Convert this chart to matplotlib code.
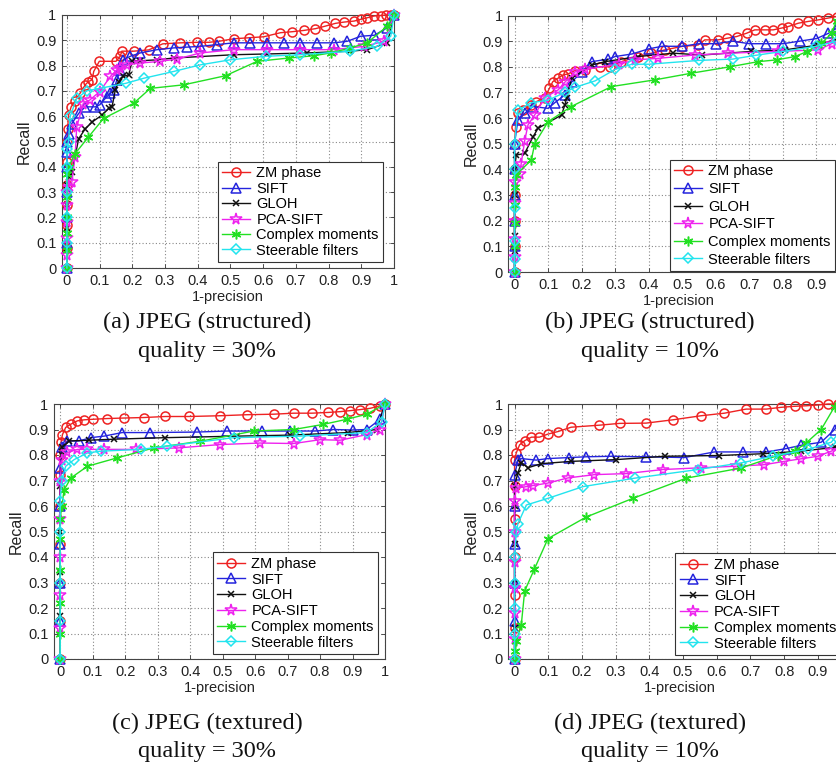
import matplotlib
matplotlib.use("Agg")
import matplotlib.pyplot as plt

# ---------------- data ----------------
series_names = ["ZM phase", "SIFT", "GLOH", "PCA-SIFT", "Complex moments", "Steerable filters"]
tick_vals = [0, 0.1, 0.2, 0.3, 0.4, 0.5, 0.6, 0.7, 0.8, 0.9, 1]
tick_labels = ["0", "0.1", "0.2", "0.3", "0.4", "0.5", "0.6", "0.7", "0.8", "0.9", "1"]
captions = ["(a) JPEG (structured)\nquality = 30%", "(b) JPEG (structured)\nquality = 10%",
            "(c) JPEG (textured)\nquality = 30%", "(d) JPEG (textured)\nquality = 10%"]

# panel (a)
a_zm_x = [0, 0, 0, 0, 0, 0, 0, 0.002, 0.005, 0.013, 0.025, 0.04, 0.056, 0.066, 0.077, 0.082, 0.099, 0.15, 0.163, 0.168, 0.204, 0.25, 0.293, 0.347, 0.398, 0.434, 0.464, 0.51, 0.556, 0.602, 0.653, 0.689, 0.724, 0.76, 0.79, 0.821, 0.847, 0.878, 0.898, 0.918, 0.939, 0.96, 0.975, 0.99, 1.0]
a_zm_y = [0, 0.08, 0.17, 0.25, 0.33, 0.42, 0.5, 0.55, 0.604, 0.637, 0.66, 0.69, 0.724, 0.737, 0.744, 0.777, 0.817, 0.817, 0.837, 0.857, 0.857, 0.862, 0.886, 0.89, 0.892, 0.892, 0.896, 0.906, 0.91, 0.914, 0.93, 0.934, 0.939, 0.946, 0.956, 0.967, 0.972, 0.976, 0.983, 0.989, 0.996, 0.998, 1.0, 1.0, 1.0]
a_sift_x = [0, 0, 0, 0, 0, 0, 0, 0.005, 0.015, 0.036, 0.056, 0.087, 0.1, 0.122, 0.133, 0.143, 0.153, 0.163, 0.173, 0.194, 0.224, 0.276, 0.327, 0.367, 0.408, 0.459, 0.51, 0.561, 0.612, 0.663, 0.714, 0.765, 0.816, 0.857, 0.898, 0.94, 0.98, 1.0]
a_sift_y = [0, 0.1, 0.2, 0.3, 0.4, 0.46, 0.5, 0.53, 0.571, 0.611, 0.637, 0.637, 0.645, 0.677, 0.69, 0.704, 0.744, 0.784, 0.823, 0.837, 0.85, 0.863, 0.87, 0.873, 0.876, 0.883, 0.89, 0.89, 0.89, 0.89, 0.89, 0.89, 0.89, 0.896, 0.916, 0.92, 0.95, 1.0]
a_gloh_x = [0, 0, 0, 0, 0, 0.005, 0.015, 0.036, 0.056, 0.077, 0.107, 0.128, 0.138, 0.148, 0.158, 0.173, 0.189, 0.2, 0.224, 0.276, 0.327, 0.51, 0.612, 0.735, 0.867, 0.918, 0.98, 1.0]
a_gloh_y = [0, 0.08, 0.16, 0.25, 0.33, 0.36, 0.378, 0.511, 0.55, 0.577, 0.604, 0.631, 0.637, 0.704, 0.737, 0.757, 0.764, 0.82, 0.819, 0.823, 0.83, 0.843, 0.846, 0.85, 0.857, 0.863, 0.89, 1.0]
a_pca_x = [0, 0, 0, 0, 0, 0, 0.005, 0.015, 0.025, 0.03, 0.05, 0.07, 0.1, 0.133, 0.153, 0.163, 0.184, 0.224, 0.286, 0.337, 0.408, 0.51, 0.612, 0.714, 0.816, 0.908, 0.97, 1.0]
a_pca_y = [0, 0.05, 0.12, 0.18, 0.25, 0.3, 0.32, 0.339, 0.44, 0.558, 0.65, 0.664, 0.697, 0.757, 0.784, 0.79, 0.803, 0.81, 0.817, 0.826, 0.85, 0.863, 0.863, 0.863, 0.863, 0.876, 0.896, 1.0]
a_cm_x = [0, 0, 0, 0, 0, 0, 0.005, 0.025, 0.066, 0.112, 0.204, 0.255, 0.357, 0.485, 0.582, 0.679, 0.755, 0.806, 0.867, 0.918, 0.98, 1.0]
a_cm_y = [0, 0.07, 0.14, 0.2, 0.28, 0.37, 0.4, 0.452, 0.518, 0.591, 0.651, 0.71, 0.724, 0.76, 0.817, 0.83, 0.839, 0.85, 0.87, 0.89, 0.956, 1.0]
a_sf_x = [0, 0, 0, 0, 0, 0, 0.005, 0.01, 0.03, 0.06, 0.1, 0.18, 0.235, 0.327, 0.408, 0.5, 0.61, 0.714, 0.867, 0.949, 0.99, 1.0]
a_sf_y = [0, 0.1, 0.2, 0.3, 0.4, 0.47, 0.5, 0.6, 0.67, 0.7, 0.71, 0.73, 0.75, 0.777, 0.803, 0.823, 0.837, 0.843, 0.857, 0.876, 0.916, 1.0]

# panel (b)
b_zm_x = [0, 0, 0, 0, 0, 0, 0.003, 0.01, 0.025, 0.05, 0.065, 0.09, 0.104, 0.114, 0.129, 0.144, 0.159, 0.179, 0.209, 0.254, 0.284, 0.318, 0.368, 0.408, 0.448, 0.498, 0.547, 0.567, 0.607, 0.632, 0.662, 0.692, 0.716, 0.746, 0.771, 0.796, 0.816, 0.846, 0.876, 0.906, 0.935, 0.96, 1.0]
b_zm_y = [0, 0.1, 0.2, 0.3, 0.4, 0.5, 0.566, 0.618, 0.63, 0.651, 0.664, 0.68, 0.716, 0.742, 0.755, 0.768, 0.772, 0.785, 0.788, 0.8, 0.8, 0.82, 0.84, 0.853, 0.866, 0.879, 0.885, 0.905, 0.905, 0.911, 0.918, 0.931, 0.944, 0.944, 0.944, 0.951, 0.957, 0.97, 0.977, 0.983, 0.99, 0.996, 1.0]
b_sift_x = [0, 0, 0, 0, 0, 0, 0.01, 0.03, 0.055, 0.1, 0.12, 0.15, 0.17, 0.2, 0.23, 0.28, 0.3, 0.35, 0.4, 0.44, 0.5, 0.55, 0.6, 0.65, 0.7, 0.75, 0.8, 0.85, 0.9, 0.935, 0.96, 1.0]
b_sift_y = [0, 0.1, 0.2, 0.3, 0.4, 0.5, 0.592, 0.618, 0.645, 0.638, 0.66, 0.69, 0.74, 0.78, 0.82, 0.83, 0.84, 0.85, 0.87, 0.88, 0.88, 0.89, 0.89, 0.9, 0.89, 0.89, 0.89, 0.9, 0.91, 0.93, 0.95, 1.0]
b_gloh_x = [0, 0, 0, 0, 0, 0.005, 0.03, 0.055, 0.07, 0.14, 0.15, 0.155, 0.17, 0.23, 0.27, 0.368, 0.473, 0.56, 0.706, 0.806, 0.906, 0.965, 1.0]
b_gloh_y = [0, 0.08, 0.14, 0.3, 0.4, 0.456, 0.462, 0.527, 0.56, 0.612, 0.651, 0.677, 0.755, 0.807, 0.82, 0.84, 0.853, 0.846, 0.86, 0.866, 0.885, 0.911, 1.0]
b_pca_x = [0, 0, 0, 0, 0, 0, 0.015, 0.02, 0.03, 0.04, 0.06, 0.09, 0.13, 0.15, 0.18, 0.21, 0.31, 0.36, 0.428, 0.537, 0.637, 0.786, 0.906, 0.945, 1.0]
b_pca_y = [0, 0.06, 0.13, 0.2, 0.27, 0.35, 0.384, 0.423, 0.51, 0.573, 0.612, 0.68, 0.71, 0.74, 0.78, 0.79, 0.81, 0.827, 0.833, 0.846, 0.853, 0.86, 0.866, 0.89, 0.93]
b_cm_x = [0, 0, 0, 0, 0, 0.005, 0.05, 0.06, 0.1, 0.169, 0.289, 0.418, 0.527, 0.642, 0.726, 0.781, 0.836, 0.871, 0.915, 0.945, 0.96, 1.0]
b_cm_y = [0, 0.1, 0.19, 0.26, 0.33, 0.38, 0.436, 0.5, 0.586, 0.645, 0.723, 0.749, 0.775, 0.8, 0.82, 0.827, 0.84, 0.859, 0.892, 0.93, 0.98, 1.0]
b_sf_x = [0, 0, 0, 0, 0, 0, 0.01, 0.05, 0.1, 0.15, 0.18, 0.24, 0.3, 0.35, 0.4, 0.55, 0.65, 0.72, 0.8, 0.9, 0.96, 1.0]
b_sf_y = [0, 0.05, 0.12, 0.25, 0.4, 0.5, 0.63, 0.66, 0.67, 0.7, 0.72, 0.745, 0.79, 0.81, 0.81, 0.825, 0.83, 0.845, 0.86, 0.88, 0.9, 0.95]

# panel (c)
c_zm_x = [0, 0, 0, 0, 0, 0, 0, 0.003, 0.007, 0.017, 0.033, 0.053, 0.074, 0.1, 0.145, 0.197, 0.258, 0.324, 0.398, 0.493, 0.575, 0.657, 0.719, 0.775, 0.826, 0.862, 0.893, 0.923, 0.954, 0.985, 1.0]
c_zm_y = [0, 0.15, 0.3, 0.45, 0.6, 0.72, 0.8, 0.85, 0.88, 0.908, 0.921, 0.934, 0.938, 0.94, 0.943, 0.945, 0.947, 0.951, 0.951, 0.954, 0.958, 0.96, 0.964, 0.964, 0.967, 0.97, 0.974, 0.978, 0.983, 0.993, 1.0]
c_sift_x = [0, 0, 0, 0, 0, 0, 0.005, 0.022, 0.058, 0.094, 0.135, 0.191, 0.278, 0.422, 0.514, 0.621, 0.708, 0.785, 0.841, 0.9, 0.944, 0.985, 1.0]
c_sift_y = [0, 0.15, 0.3, 0.45, 0.6, 0.75, 0.83, 0.855, 0.855, 0.868, 0.874, 0.888, 0.888, 0.89, 0.894, 0.894, 0.894, 0.894, 0.9, 0.898, 0.9, 0.94, 1.0]
c_gloh_x = [0, 0, 0, 0, 0, 0.005, 0.007, 0.028, 0.089, 0.166, 0.324, 0.545, 0.708, 0.887, 0.974, 1.0]
c_gloh_y = [0, 0.17, 0.34, 0.5, 0.68, 0.8, 0.83, 0.855, 0.858, 0.862, 0.868, 0.874, 0.878, 0.888, 0.9, 1.0]
c_pca_x = [0, 0, 0, 0, 0, 0, 0.005, 0.022, 0.053, 0.084, 0.135, 0.232, 0.365, 0.493, 0.616, 0.719, 0.8, 0.862, 0.944, 0.985, 1.0]
c_pca_y = [0, 0.12, 0.25, 0.4, 0.55, 0.7, 0.78, 0.81, 0.822, 0.822, 0.822, 0.822, 0.828, 0.841, 0.847, 0.845, 0.86, 0.858, 0.88, 0.9, 1.0]
c_cm_x = [0, 0, 0, 0, 0, 0, 0.005, 0.012, 0.033, 0.084, 0.176, 0.289, 0.432, 0.596, 0.719, 0.81, 0.882, 0.944, 1.0]
c_cm_y = [0, 0.1, 0.22, 0.35, 0.47, 0.55, 0.6, 0.663, 0.71, 0.756, 0.789, 0.828, 0.854, 0.894, 0.9, 0.92, 0.94, 0.96, 1.0]
c_sf_x = [0, 0, 0, 0, 0, 0.005, 0.017, 0.043, 0.084, 0.125, 0.248, 0.33, 0.534, 0.739, 0.944, 0.99, 1.0]
c_sf_y = [0, 0.15, 0.3, 0.5, 0.62, 0.7, 0.756, 0.782, 0.808, 0.815, 0.822, 0.835, 0.868, 0.874, 0.888, 0.93, 1.0]

# panel (d)
d_zm_x = [0, 0, 0, 0, 0, 0, 0, 0.005, 0.015, 0.03, 0.05, 0.074, 0.099, 0.129, 0.168, 0.252, 0.312, 0.39, 0.47, 0.554, 0.623, 0.687, 0.747, 0.791, 0.831, 0.865, 0.9, 0.93, 0.96, 1.0]
d_zm_y = [0, 0.12, 0.25, 0.4, 0.55, 0.68, 0.78, 0.808, 0.84, 0.856, 0.87, 0.87, 0.882, 0.892, 0.909, 0.917, 0.924, 0.925, 0.938, 0.954, 0.964, 0.98, 0.98, 0.987, 0.991, 0.993, 0.996, 1.0, 1.0, 1.0]
d_sift_x = [0, 0, 0, 0, 0, 0, 0.01, 0.02, 0.064, 0.099, 0.163, 0.213, 0.287, 0.39, 0.504, 0.593, 0.678, 0.747, 0.806, 0.85, 0.91, 0.95, 1.0]
d_sift_y = [0, 0.15, 0.3, 0.45, 0.6, 0.72, 0.78, 0.786, 0.78, 0.786, 0.79, 0.793, 0.795, 0.793, 0.79, 0.812, 0.812, 0.812, 0.825, 0.838, 0.85, 0.9, 1.0]
d_gloh_x = [0, 0, 0, 0, 0, 0, 0.01, 0.02, 0.04, 0.079, 0.168, 0.302, 0.445, 0.608, 0.737, 0.85, 0.95, 1.0]
d_gloh_y = [0, 0.12, 0.3, 0.45, 0.6, 0.68, 0.73, 0.77, 0.75, 0.766, 0.775, 0.782, 0.795, 0.798, 0.805, 0.815, 0.83, 0.9]
d_pca_x = [0, 0, 0, 0, 0, 0, 0, 0.005, 0.035, 0.054, 0.099, 0.158, 0.237, 0.331, 0.44, 0.554, 0.657, 0.741, 0.8, 0.85, 0.9, 0.94, 1.0]
d_pca_y = [0, 0.08, 0.18, 0.28, 0.38, 0.5, 0.62, 0.67, 0.676, 0.68, 0.69, 0.71, 0.723, 0.727, 0.743, 0.75, 0.756, 0.762, 0.775, 0.785, 0.795, 0.815, 0.86]
d_cm_x = [0, 0, 0.005, 0.02, 0.03, 0.059, 0.099, 0.213, 0.351, 0.509, 0.672, 0.781, 0.831, 0.866, 0.91, 0.95, 1.0]
d_cm_y = [0, 0.03, 0.069, 0.135, 0.267, 0.353, 0.472, 0.557, 0.63, 0.709, 0.749, 0.798, 0.815, 0.848, 0.9, 0.99, 1.0]
d_sf_x = [0, 0, 0, 0, 0, 0.005, 0.01, 0.035, 0.099, 0.203, 0.356, 0.544, 0.672, 0.767, 0.87, 0.94, 1.0]
d_sf_y = [0, 0.1, 0.2, 0.3, 0.4, 0.5, 0.531, 0.604, 0.63, 0.676, 0.709, 0.743, 0.769, 0.795, 0.822, 0.85, 0.95]

panels = [
    [(a_zm_x, a_zm_y), (a_sift_x, a_sift_y), (a_gloh_x, a_gloh_y), (a_pca_x, a_pca_y), (a_cm_x, a_cm_y), (a_sf_x, a_sf_y)],
    [(b_zm_x, b_zm_y), (b_sift_x, b_sift_y), (b_gloh_x, b_gloh_y), (b_pca_x, b_pca_y), (b_cm_x, b_cm_y), (b_sf_x, b_sf_y)],
    [(c_zm_x, c_zm_y), (c_sift_x, c_sift_y), (c_gloh_x, c_gloh_y), (c_pca_x, c_pca_y), (c_cm_x, c_cm_y), (c_sf_x, c_sf_y)],
    [(d_zm_x, d_zm_y), (d_sift_x, d_sift_y), (d_gloh_x, d_gloh_y), (d_pca_x, d_pca_y), (d_cm_x, d_cm_y), (d_sf_x, d_sf_y)],
]

# ---------------- styles ----------------
colors = ["#EE2222", "#2424DD", "#111111", "#EE22EE", "#22E022", "#22E4EE"]
markers = ["o", "^", "x", "*", (6, 2, 0), "D"]
msizes = [6.5, 6.5, 5, 8.5, 7, 5]
W, H = 837, 776
# axes boxes in pixels: left, top, right, bottom
boxes = [(62, 15, 394, 268), (508.5, 15.5, 850, 272), (54, 404, 385, 659), (508.5, 404, 851.5, 659)]
xlefts = [-0.015, -0.018, -0.019, -0.018]
cropped_right = [False, True, False, True]   # the "1" label falls outside the page
leg_anchor = [("lower right", (0.967, 0.024)), ("lower left", (0.472, 0.004)),
              ("lower right", (0.979, 0.02)), ("lower left", (0.486, 0.016))]
leg_spacing = [0.1, 0.25, 0.12, 0.12]
cap_pos = [(207, 322, 352), (650, 322, 352), (207, 723, 752), (650, 723, 752)]

plt.rcParams["font.family"] = ["Liberation Sans", "DejaVu Sans"]
fig = plt.figure(figsize=(W / 100, H / 100), dpi=100)
fig.patch.set_facecolor("white")

for i, data in enumerate(panels):
    l, t, r, b = boxes[i]
    ax = fig.add_axes([l / W, (H - b) / H, (r - l) / W, (b - t) / H])
    for j, (xs, ys) in enumerate(data):
        filled = markers[j] in ("x",) or isinstance(markers[j], tuple)
        ax.plot(xs, ys, color=colors[j], lw=1.0, marker=markers[j], ms=msizes[j],
                mfc=colors[j] if filled else "none", mec=colors[j], mew=1.1,
                label=series_names[j], clip_on=False, zorder=3)
    ax.set_xlim(xlefts[i], 1.0)
    ax.set_ylim(0, 1.0)
    ax.set_xticks(tick_vals)
    xl = list(tick_labels)
    if cropped_right[i]:
        xl[-1] = ""
    ax.set_xticklabels(xl)
    ax.set_yticks(tick_vals)
    ax.set_yticklabels(tick_labels)
    ax.tick_params(direction="in", length=3, width=0.6, top=True, right=True,
                   labelsize=10.5, colors="#333333", labelcolor="#222222", pad=4)
    ax.grid(True, color="#888888", linestyle=(0, (1, 2)), linewidth=0.8)
    for s in ax.spines.values():
        s.set_color("#444444")
        s.set_linewidth(0.8)
    ax.set_xlabel("1-precision", fontsize=10.5, color="#222222", labelpad=2)
    ax.set_ylabel("Recall", fontsize=11.5, color="#222222", labelpad=3)
    loc, anc = leg_anchor[i]
    leg = ax.legend(loc=loc, bbox_to_anchor=anc, borderaxespad=0, fontsize=10.5,
                    handlelength=1.9, handletextpad=0.45, labelspacing=leg_spacing[i],
                    borderpad=0.3, fancybox=False, framealpha=1, edgecolor="#333333")
    leg.get_frame().set_linewidth(0.8)
    leg.set_zorder(5)

    cx, y1, y2 = cap_pos[i]
    top_line, bottom_line = captions[i].split("\n")
    fig.text(cx / W, 1 - y1 / H, top_line, ha="center", va="center",
             fontsize=17.5, family="Liberation Serif", color="#111111")
    fig.text(cx / W, 1 - y2 / H, bottom_line, ha="center", va="center",
             fontsize=17.5, family="Liberation Serif", color="#111111")

fig.savefig("out.png", dpi=100, facecolor="white")
